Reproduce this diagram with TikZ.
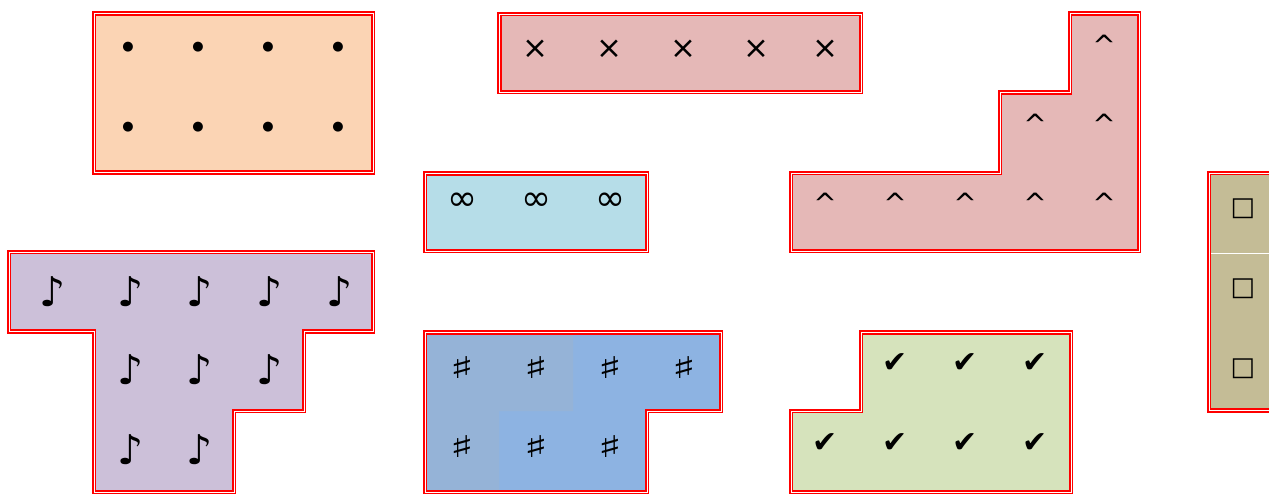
\documentclass[tikz,border=0pt]{standalone}
\usepackage{fontspec}
\usepackage{xcolor}
\usepackage{graphicx}
\usepackage{tikz}
\usetikzlibrary{calc}

\newfontfamily\symfont{DejaVu Sans}
\definecolor{peach}{HTML}{FBD4B4}
\definecolor{rose}{HTML}{E5B8B7}
\definecolor{aqua}{HTML}{B6DDE8}
\definecolor{lilac}{HTML}{CCC0D9}
\definecolor{skyblue}{HTML}{8DB3E2}
\definecolor{greyblue}{HTML}{95B3D7}
\definecolor{olive}{HTML}{D6E3BC}
\definecolor{tan}{HTML}{C4BC96}
\newcommand{\sharpsign}{\scalebox{1.7}[1]{\bfseries ♯}}

\tikzset{
  piece/.style={draw=red,double=white,line width=1.6pt,double distance=0.9pt},
  glyph/.style={inner sep=0pt,font=\symfont\fontsize{#1}{#1}\selectfont},
  glyph/.default=24
}

\begin{document}
\begin{tikzpicture}[x=1pt,y=-1pt]
  \useasboundingbox (0,0) rectangle (1269,494);
  \clip (0,0) rectangle (1269,494);

  % dots
  \draw[piece,fill=peach] (94,13.5) rectangle (373,172.5);
  \foreach \x [count=\i] in {128,198,268,338}{
    \foreach \y [count=\j] in {47,127}
      \node[glyph=13] (dot-\i-\j) at (\x,\y) {●};
  }

  % crosses
  \draw[piece,fill=rose] (499.5,14) rectangle (861,92);
  \foreach \x [count=\i] in {535,609,683,756,825}
    \node[glyph=31] (cross-\i) at (\x,49) {×};

  % carets
  \draw[piece,fill=rose] (1070,13.5) -- (1139,13.5) -- (1139,251) -- (791,251)
    -- (791,173) -- (1000,173) -- (1000,92.5) -- (1070,92.5) -- cycle;
  \node[glyph=28] (caret-1) at (1104,45) {\^{}};
  \foreach \x [count=\i] in {1035,1104}
    \node[glyph=28] (caret-2-\i) at (\x,124) {\^{}};
  \foreach \x [count=\i] in {825,895,965,1035,1104}
    \node[glyph=28] (caret-3-\i) at (\x,203) {\^{}};

  % squares
  \fill[tan] (1209,173) rectangle (1279,410.5);
  \draw[white,line width=1pt] (1211,254) -- (1279,254);
  \draw[piece] (1209,173) rectangle (1279,410.5);
  \foreach \y [count=\j] in {209,289,369}
    \node[glyph=26] (box-\j) at (1243,\y) {□};

  % notes
  \draw[piece,fill=lilac] (9,252) -- (373,252) -- (373,331.5) -- (304,331.5)
    -- (304,411) -- (234,411) -- (234,492) -- (94,492) -- (94,331.5)
    -- (9,331.5) -- cycle;
  \foreach \x [count=\i] in {53,131,200,270,340}
    \node[glyph=41] (note-1-\i) at (\x,292) {♪};
  \foreach \x [count=\i] in {131,200,270}
    \node[glyph=41] (note-2-\i) at (\x,370) {♪};
  \foreach \x [count=\i] in {131,200}
    \node[glyph=41] (note-3-\i) at (\x,450) {♪};

  % infinity
  \draw[piece,fill=aqua] (425,173.5) rectangle (647,251);
  \foreach \x [count=\i] in {462,536,610}
    \node[glyph=36] (inf-\i) at (\x,202) {∞};

  % sharps
  \fill[skyblue] (425,332.5) -- (721,332.5) -- (721,411) -- (647,411)
    -- (647,492) -- (425,492) -- cycle;
  \fill[greyblue] (425,332.5) -- (573,332.5) -- (573,411) -- (499,411)
    -- (499,492) -- (425,492) -- cycle;
  \draw[piece] (425,332.5) -- (721,332.5) -- (721,411) -- (647,411)
    -- (647,492) -- (425,492) -- cycle;
  \foreach \x [count=\i] in {462,536,610,684}
    \node[glyph=30] (sharp-1-\i) at (\x,368) {\sharpsign};
  \foreach \x [count=\i] in {462,536,610}
    \node[glyph=30] (sharp-2-\i) at (\x,447) {\sharpsign};

  % ticks
  \draw[piece,fill=olive] (861,332.5) -- (1071,332.5) -- (1071,492) -- (791,492)
    -- (791,411) -- (861,411) -- cycle;
  \foreach \x [count=\i] in {895,965,1035}
    \node[glyph=30] (tick-1-\i) at (\x,363) {✔};
  \foreach \x [count=\i] in {825,895,965,1035}
    \node[glyph=30] (tick-2-\i) at (\x,443) {✔};
\end{tikzpicture}
\end{document}
